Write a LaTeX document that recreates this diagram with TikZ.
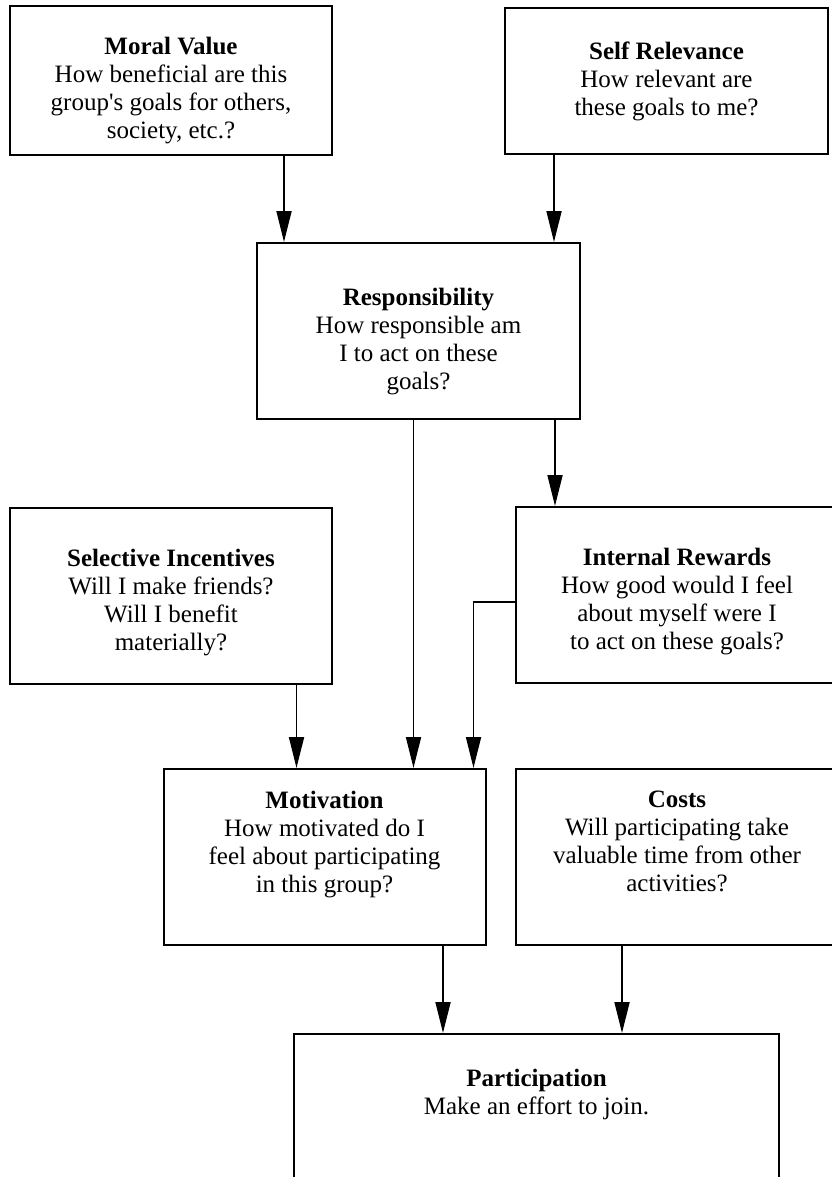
\documentclass[tikz,border=0pt]{standalone}
\usepackage{fontspec}
\setmainfont{Liberation Serif}[Ligatures=TeXOff]
\usetikzlibrary{arrows.meta}

\begin{document}
\begin{tikzpicture}[
    x=1pt, y=-1pt,
    font=\fontsize{25}{28}\selectfont,
    box/.style={draw, line width=2pt, align=center, inner sep=0pt,
      minimum width=322pt, minimum height=176pt},
    arrow/.style={-{Triangle[length=31pt,width=15pt]}, line width=1.8pt}
  ]
    \useasboundingbox (0,0) rectangle (831,1177);

    \node[box, minimum height=149pt, text height=121pt] (moral) at (171,80.5) {\textbf{Moral Value}\\How beneficial are this\\group's goals for others,\\society, etc.?};
    \node[box, minimum width=323pt, minimum height=146pt] (selfrel) at (666.5,81) {\textbf{Self Relevance}\\How relevant are\\these goals to me?};
    \node[box, minimum width=323pt, text height=122pt] (resp) at (418.5,331) {\textbf{Responsibility}\\How responsible am\\I to act on these\\goals?};

    \node[box, text height=115pt] (selective) at (171,595.5) {\textbf{Selective Incentives}\\Will I make friends?\\Will I benefit\\materially?};
    \node[box, text height=115pt] (internal) at (677,595) {\textbf{Internal Rewards}\\How good would I feel\\about myself were I\\to act on these goals?};

    \node[box, text depth=30pt] (motivation) at (324.5,857) {\textbf{Motivation}\\How motivated do I\\feel about participating\\in this group?};
    \node[box, text depth=32pt] (costs) at (677,857) {\textbf{Costs}\\Will participating take\\valuable time from other\\activities?};

    \node[box, anchor=north, minimum width=485pt, minimum height=220pt] (participation) at (536.5,1033) {};
    \node[anchor=north, align=center, inner sep=0pt] (partlabel) at ([yshift=-36pt]participation.north) {\textbf{Participation}\\Make an effort to join.};

    \draw[arrow] ([xshift=28pt]resp.north west |- moral.south) -- ([xshift=28pt]resp.north west);
    \draw[arrow] ([xshift=-27pt]resp.north east |- selfrel.south) -- ([xshift=-27pt]resp.north east);
    \draw[arrow] ([xshift=-26pt]resp.south east) -- ([xshift=-26pt]resp.south east |- internal.north);
    \draw[arrow] ([xshift=-5pt]resp.south) -- ([xshift=-5pt]resp.south |- motivation.north);
    \draw[arrow] ([xshift=134pt]motivation.north west |- selective.south) -- ([xshift=134pt]motivation.north west);
    \draw[arrow] ([yshift=-7pt]internal.west) -| ([xshift=-13pt]motivation.north east);
    \draw[arrow] ([xshift=150pt]participation.north west |- motivation.south) -- ([xshift=150pt]participation.north west);
    \draw[arrow] ([xshift=107pt]costs.north west |- costs.south) -- ([xshift=107pt]participation.north west -| costs.west);
\end{tikzpicture}
\end{document}
